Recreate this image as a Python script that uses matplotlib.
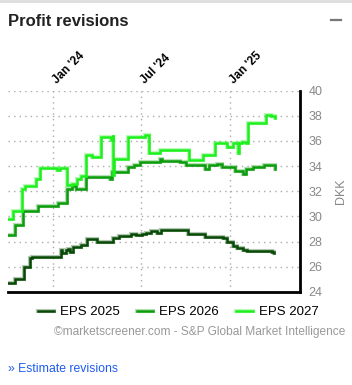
import matplotlib.pyplot as plt
import matplotlib.patheffects as pe
import matplotlib.transforms as mtransforms
import pandas as pd

plt.rcParams["font.family"] = ["Liberation Sans", "DejaVu Sans"]

# Values (DKK per share), step changes on the given dates.
EPS_2025_DATES = ["2023-09-29", "2023-10-14", "2023-11-01", "2023-11-14", "2023-11-18",
                  "2023-12-04", "2024-01-16", "2024-01-19", "2024-01-28", "2024-01-31",
                  "2024-02-04", "2024-02-11", "2024-02-28", "2024-03-11", "2024-03-31",
                  "2024-05-04", "2024-05-15", "2024-06-09", "2024-06-20", "2024-07-03",
                  "2024-07-10", "2024-07-20", "2024-08-03", "2024-08-10", "2024-10-06",
                  "2024-11-10", "2024-12-04", "2024-12-17", "2024-12-24", "2025-01-07",
                  "2025-01-15", "2025-01-28", "2025-02-05", "2025-03-28", "2025-04-02"]
EPS_2025_VALUES = [24.75, 25.05, 26.0, 26.7, 26.8,
                   26.75, 27.35, 27.1, 27.3, 27.45,
                   27.2, 27.6, 27.75, 28.2, 28.0,
                   28.25, 28.45, 28.6, 28.5, 28.6,
                   28.7, 28.85, 28.65, 28.9, 28.6,
                   28.35, 28.4, 28.25, 28.0, 27.65,
                   27.5, 27.35, 27.25, 27.2, 27.1]

EPS_2026_DATES = ["2023-09-29", "2023-10-14", "2023-10-30", "2023-11-30", "2024-01-11",
                  "2024-01-30", "2024-02-08", "2024-02-17", "2024-03-09", "2024-04-27",
                  "2024-05-01", "2024-06-04", "2024-06-15", "2024-06-29", "2024-08-09",
                  "2024-08-13", "2024-09-19", "2024-10-02", "2024-11-10", "2024-11-18",
                  "2024-12-05", "2024-12-15", "2025-01-11", "2025-01-28", "2025-02-03",
                  "2025-02-16", "2025-03-11", "2025-03-26", "2025-04-03"]
EPS_2026_VALUES = [28.5, 29.3, 30.4, 30.85, 31.1,
                   32.2, 32.4, 32.2, 33.1, 33.0,
                   33.5, 33.9, 34.05, 34.3, 34.6,
                   34.4, 34.35, 34.1, 33.75, 34.05,
                   34.2, 33.9, 33.6, 33.35, 33.8,
                   33.95, 34.1, 34.05, 33.75]

EPS_2027_DATES = ["2023-09-29", "2023-10-10", "2023-10-28", "2023-11-03", "2023-11-26",
                  "2023-12-04", "2024-01-09", "2024-01-15", "2024-01-30", "2024-02-09",
                  "2024-02-19", "2024-02-27", "2024-03-09", "2024-03-21", "2024-04-08",
                  "2024-04-29", "2024-05-03", "2024-05-04", "2024-05-05", "2024-06-04",
                  "2024-07-09", "2024-07-16", "2024-08-09", "2024-10-08", "2024-11-06",
                  "2024-12-01", "2024-12-24", "2025-01-07", "2025-01-17", "2025-01-19",
                  "2025-01-26", "2025-02-03", "2025-02-06", "2025-03-15", "2025-03-26",
                  "2025-04-03"]
EPS_2027_VALUES = [29.8, 30.4, 32.2, 32.4, 33.0,
                   33.85, 33.7, 33.85, 32.5, 32.6,
                   33.0, 33.2, 34.9, 34.7, 36.3,
                   36.1, 36.5, 33.3, 34.6, 36.3,
                   36.45, 35.0, 35.3, 34.5, 34.9,
                   35.8, 35.5, 35.8, 35.0, 35.8,
                   35.9, 35.8, 37.4, 38.05, 37.95,
                   37.8]

SERIES = ["EPS 2025", "EPS 2026", "EPS 2027"]
COLORS = ["#064a06", "#0c9c0c", "#1ef01e"]

TICK_DATES = ["2024-01-01", "2024-07-01", "2025-01-01"]
TICK_LABELS = ["Jan '24", "Jul '24", "Jan '25"]
Y_TICKS = [24, 26, 28, 30, 32, 34, 36, 38, 40]

W, H = 352, 385
fig = plt.figure(figsize=(W / 100, H / 100), dpi=100)
ax = fig.add_axes([8 / W, 93 / H, 292 / W, 201.5 / H])

data = [(EPS_2025_DATES, EPS_2025_VALUES),
        (EPS_2026_DATES, EPS_2026_VALUES),
        (EPS_2027_DATES, EPS_2027_VALUES)]
handles = []
for (dates, values), name, color in zip(data, SERIES, COLORS):
    line, = ax.plot(pd.to_datetime(dates), values, drawstyle="steps-post",
                    color=color, lw=1.8, label=name, solid_joinstyle="miter",
                    path_effects=[pe.Stroke(linewidth=3.0, foreground=color, alpha=0.3),
                                  pe.Normal()])
    handles.append(line)

ax.set_xlim(pd.Timestamp("2023-09-29"), pd.Timestamp("2025-05-25"))
ax.set_ylim(24, 40)

# Axis styling
ax.spines.left.set_visible(False)
ax.spines.top.set_visible(False)
ax.spines.right.set_linewidth(2)
ax.spines.bottom.set_linewidth(2)

ax.xaxis.tick_top()
ax.set_xticks(pd.to_datetime(TICK_DATES))
ax.set_xticklabels(TICK_LABELS, rotation=45, ha="left", va="baseline",
                   rotation_mode="anchor", fontsize=8.5, fontweight="bold")
ax.tick_params(axis="x", length=0, pad=5)
shift = mtransforms.ScaledTranslation(4 / 100, 0, fig.dpi_scale_trans)
for lbl in ax.get_xticklabels():
    lbl.set_transform(lbl.get_transform() + shift)

ax.yaxis.tick_right()
ax.set_yticks(Y_TICKS)
ax.tick_params(axis="y", length=0, pad=6, labelsize=9, labelcolor="#888888")
ax.yaxis.set_label_position("right")
ax.set_ylabel("DKK", color="#888888", fontsize=9, labelpad=9, rotation=90)

ax.grid(True, color="#aaaaaa", linestyle=(0, (1, 3)), lw=1)
ax.set_axisbelow(True)

# Legend and texts around the chart
fig.legend(handles=handles, loc="center", bbox_to_anchor=(0.5 + 2 / W, 1 - 312 / H),
           ncol=3, frameon=False, fontsize=9.5, handlelength=1.25, handletextpad=0.45,
           columnspacing=1.3)

fig.add_artist(plt.Line2D([0, 1], [1 - 1 / H, 1 - 1 / H], color="#dddddd", lw=2))
fig.add_artist(plt.Line2D([331 / W, 341 / W], [1 - 20 / H, 1 - 20 / H],
                          color="#777777", lw=1.6))
fig.text(8 / W, 1 - 26 / H, "Profit revisions", fontsize=12, fontweight="bold",
         color="#222222", va="baseline")
fig.text(345 / W, 1 - 335.5 / H, "\u00a9marketscreener.com - S&P Global Market Intelligence",
         fontsize=8.6, color="#999999", ha="right", va="baseline")
fig.text(8 / W, 1 - 372 / H, "\u00bb Estimate revisions", fontsize=8.8,
         color="#1f5bf0", va="baseline")

fig.savefig("out.png", dpi=100)
